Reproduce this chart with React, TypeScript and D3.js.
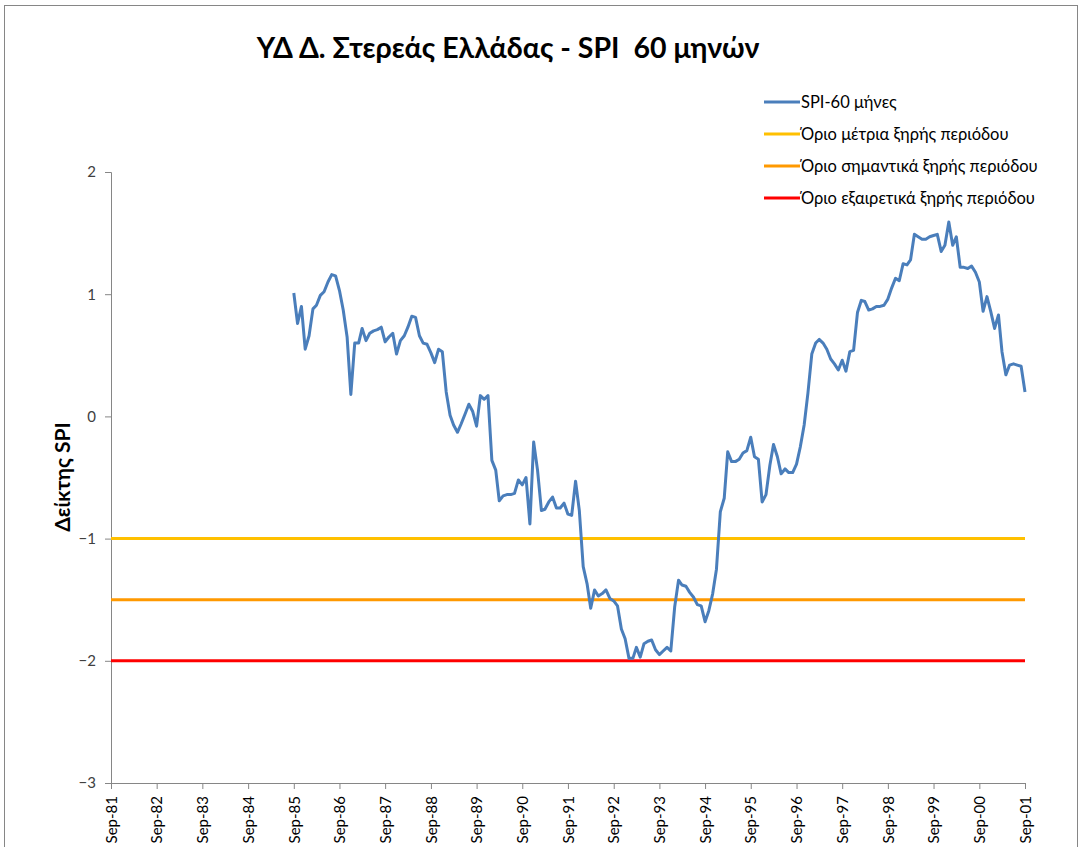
import React, { useEffect, useRef } from "react";
import * as d3 from "d3";

// SPI-60 monthly values, Sep-85 .. Sep-01
const spiValues = [
  1.01, 0.76, 0.9, 0.55, 0.66, 0.88, 0.91, 0.99, 1.02, 1.1, 1.16, 1.15,
  1.03, 0.87, 0.65, 0.18, 0.6, 0.6, 0.72, 0.62, 0.68, 0.7, 0.71, 0.73,
  0.61, 0.65, 0.68, 0.51, 0.62, 0.66, 0.73, 0.82, 0.81, 0.66, 0.6, 0.59,
  0.52, 0.44, 0.55, 0.53, 0.2, 0.01, -0.07, -0.13, -0.06, 0.02, 0.1, 0.04,
  -0.08, 0.17, 0.14, 0.17, -0.36, -0.44, -0.69, -0.65, -0.64, -0.64, -0.63, -0.52,
  -0.56, -0.5, -0.88, -0.21, -0.44, -0.77, -0.76, -0.7, -0.66, -0.75, -0.75, -0.71,
  -0.8, -0.81, -0.53, -0.77, -1.23, -1.37, -1.57, -1.42, -1.47, -1.45, -1.42, -1.49,
  -1.51, -1.55, -1.74, -1.82, -1.98, -1.98, -1.89, -1.97, -1.86, -1.84, -1.83, -1.91,
  -1.95, -1.92, -1.89, -1.92, -1.56, -1.34, -1.38, -1.39, -1.44, -1.48, -1.54, -1.55,
  -1.68, -1.59, -1.45, -1.25, -0.78, -0.67, -0.29, -0.37, -0.37, -0.35, -0.3, -0.28,
  -0.17, -0.33, -0.35, -0.7, -0.64, -0.4, -0.23, -0.33, -0.47, -0.43, -0.46, -0.46,
  -0.39, -0.25, -0.07, 0.19, 0.51, 0.6, 0.63, 0.6, 0.55, 0.47, 0.43, 0.38,
  0.46, 0.37, 0.53, 0.54, 0.85, 0.95, 0.94, 0.87, 0.88, 0.9, 0.9, 0.91,
  0.96, 1.05, 1.13, 1.11, 1.25, 1.24, 1.28, 1.49, 1.47, 1.45, 1.45, 1.47,
  1.48, 1.49, 1.35, 1.4, 1.59, 1.4, 1.47, 1.22, 1.22, 1.21, 1.23, 1.18,
  1.1, 0.86, 0.98, 0.86, 0.72, 0.83, 0.53, 0.34, 0.42, 0.43, 0.42, 0.41,
  0.2,
];
const seriesStart = new Date(1985, 8, 1);

const thresholdValues = [-1, -1.5, -2];
const thresholdColors = ["#FFC000", "#FF9900", "#FF0000"];

const legendLabels = [
  "SPI-60 μήνες",
  "Όριο μέτρια ξηρής περιόδου",
  "Όριο σημαντικά ξηρής περιόδου",
  "Όριο εξαιρετικά ξηρής περιόδου",
];
const legendColors = ["#4A7EBB", "#FFC000", "#FF9900", "#FF0000"];

const tickYears = d3.range(1981, 2002);
const yTicks = [2, 1, 0, -1, -2, -3];

const title = "ΥΔ Δ. Στερεάς Ελλάδας - SPI  60 μηνών";
const yTitle = "Δείκτης SPI";

const App = () => {
  const ref = useRef<SVGSVGElement>(null);

  useEffect(() => {
    const width = 1080,
      height = 847;
    const left = 111,
      right = 1025,
      top = 172,
      bottom = 783;
    const font = "Lato, 'Open Sans', sans-serif";

    const svg = d3.select(ref.current);
    svg.selectAll("*").remove();

    svg
      .append("rect")
      .attr("x", 4.5)
      .attr("y", 5.5)
      .attr("width", width - 7)
      .attr("height", height)
      .attr("fill", "#fff")
      .attr("stroke", "#868686");

    const x = d3
      .scaleTime()
      .domain([new Date(1981, 8, 1), new Date(2001, 8, 1)])
      .range([left, right]);
    const y = d3.scaleLinear().domain([-3, 2]).range([bottom, top]);

    // y axis
    const yAxis = svg
      .append("g")
      .attr("transform", `translate(${left},0)`)
      .call(d3.axisLeft(y).tickValues(yTicks).tickSize(6).tickFormat(d3.format("d")));
    yAxis.select(".domain").attr("stroke", "#868686");
    yAxis.selectAll("line").attr("stroke", "#868686");
    yAxis
      .selectAll("text")
      .attr("font-family", font)
      .attr("font-size", 15)
      .attr("fill", "#404040")
      .attr("x", -15);

    // x axis
    const tickDates = tickYears.map((yr) => new Date(yr, 8, 1));
    const xAxis = svg
      .append("g")
      .attr("transform", `translate(0,${bottom})`)
      .call(
        d3
          .axisBottom(x)
          .tickValues(tickDates)
          .tickSize(6)
          .tickSizeOuter(0)
          .tickFormat((d) => d3.timeFormat("%b-%y")(d as Date))
      );
    xAxis.select(".domain").attr("stroke", "#868686");
    xAxis.selectAll("line").attr("stroke", "#868686");
    xAxis
      .selectAll("text")
      .attr("font-family", font)
      .attr("font-size", 15)
      .attr("fill", "#000")
      .attr("transform", "rotate(-90)")
      .attr("text-anchor", "end")
      .attr("x", -13)
      .attr("y", 0)
      .attr("dy", "0.35em");

    // threshold lines
    thresholdValues.forEach((v, i) => {
      svg
        .append("line")
        .attr("x1", left)
        .attr("x2", right)
        .attr("y1", y(v))
        .attr("y2", y(v))
        .attr("stroke", thresholdColors[i])
        .attr("stroke-width", 3);
    });

    // SPI line
    const series = spiValues.map((v, i) => ({
      date: d3.timeMonth.offset(seriesStart, i),
      value: v,
    }));
    const line = d3
      .line<{ date: Date; value: number }>()
      .x((d) => x(d.date))
      .y((d) => y(d.value));
    svg
      .append("path")
      .datum(series)
      .attr("d", line)
      .attr("fill", "none")
      .attr("stroke", "#4A7EBB")
      .attr("stroke-width", 3)
      .attr("stroke-linejoin", "round");

    // title
    svg
      .append("text")
      .attr("x", 508)
      .attr("y", 58)
      .attr("text-anchor", "middle")
      .attr("font-family", font)
      .attr("font-weight", "bold")
      .attr("font-size", 28.5)
      .style("white-space", "pre")
      .text(title);

    svg
      .append("text")
      .attr("transform", `translate(70,477) rotate(-90)`)
      .attr("text-anchor", "middle")
      .attr("font-family", font)
      .attr("font-weight", "bold")
      .attr("font-size", 21)
      .text(yTitle);

    // legend
    const legend = svg.append("g").attr("transform", "translate(764,102)");
    legendLabels.forEach((label, i) => {
      const g = legend.append("g").attr("transform", `translate(0,${i * 32})`);
      g.append("line")
        .attr("x1", 0)
        .attr("x2", 36)
        .attr("stroke", legendColors[i])
        .attr("stroke-width", 3);
      g.append("text")
        .attr("x", 37)
        .attr("dy", "0.35em")
        .attr("font-family", font)
        .attr("font-size", 16.5)
        .attr("fill", "#000")
        .text(label);
    });
  }, []);

  return (
    <svg
      ref={ref}
      width={1080}
      height={847}
      style={{ position: "absolute", left: 0, top: 0 }}
    ></svg>
  );
};

export default App;
